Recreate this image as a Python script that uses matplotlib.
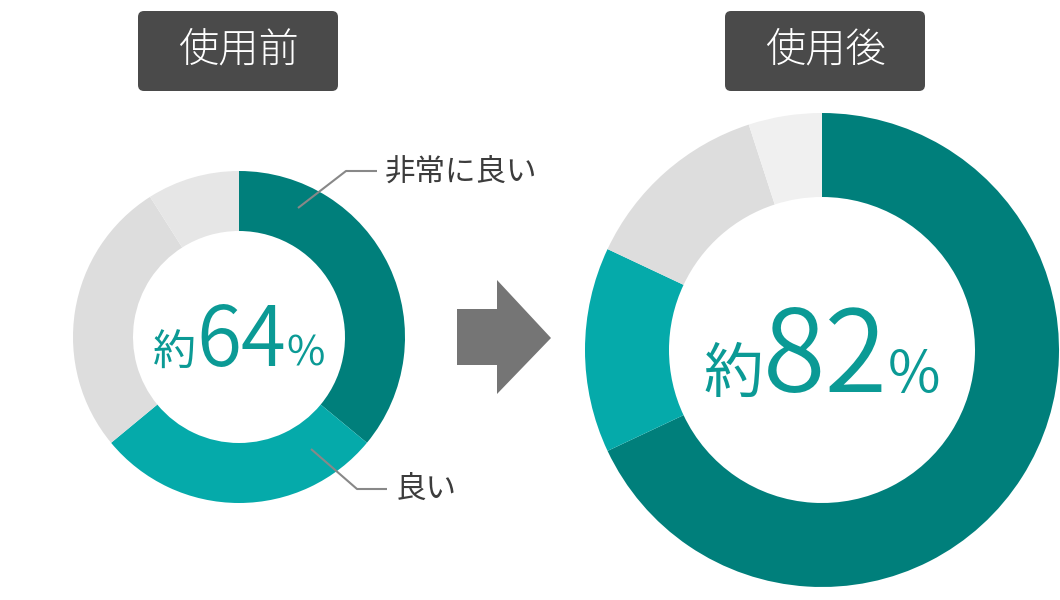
import matplotlib
matplotlib.use("Agg")
import matplotlib.pyplot as plt
from matplotlib.patches import FancyBboxPatch, Polygon

plt.rcParams['font.family'] = ['Noto Sans CJK JP', 'DejaVu Sans']

# data
categories = ['非常に良い', '良い', 'どちらでもない', '悪い']
before_values = [36, 28, 27, 9]
after_values = [68, 14, 13, 5]
titles = ['使用前', '使用後']

teal_dark = '#007F7B'
teal_light = '#05AAAA'
before_colors = [teal_dark, teal_light, '#DDDDDD', '#E6E6E6']
after_colors = [teal_dark, teal_light, '#DDDDDD', '#F0F0F0']
text_teal = '#0B9A95'
box_gray = '#4A4A4A'
label_gray = '#3C3C3C'

W, H = 1060, 600
fig = plt.figure(figsize=(W / 100, H / 100), dpi=100)
ax = fig.add_axes([0, 0, 1, 1])

# donuts (pixel coordinates, y up)
left_c, left_r, left_w = (239, 263), 166, 60
right_c, right_r, right_w = (822, 250), 237, 84

ax.pie(before_values, colors=before_colors, startangle=90, counterclock=False,
       radius=left_r, center=left_c, frame=True,
       wedgeprops=dict(width=left_w, linewidth=0))
ax.pie(after_values, colors=after_colors, startangle=90, counterclock=False,
       radius=right_r, center=right_c, frame=True,
       wedgeprops=dict(width=right_w, linewidth=0))

ax.set_xlim(0, W)
ax.set_ylim(0, H)
ax.set_aspect('equal')
ax.axis('off')

# header boxes
for title, cx in zip(titles, [238, 825]):
    box = FancyBboxPatch((cx - 100, 509), 200, 80,
                         boxstyle='round,pad=0,rounding_size=6',
                         fc=box_gray, ec='none')
    ax.add_patch(box)
    ax.text(cx, 549, title, color='white', fontsize=29, fontweight='light',
            ha='center', va='center')

# arrow
arrow = Polygon([(457, 291), (497, 291), (497, 320), (551, 262),
                 (497, 206), (497, 235), (457, 235)],
                closed=True, fc='#757575', ec='none')
ax.add_patch(arrow)


def center_label(cx, baseline, value, sizes):
    parts = [('約', sizes[0], 'normal'), (str(value), sizes[1], 350),
             ('%', sizes[2], 'normal')]
    texts = [ax.text(0, baseline, s, fontsize=fs, color=text_teal,
                     fontweight=fw, ha='left', va='baseline')
             for s, fs, fw in parts]
    fig.canvas.draw()
    r = fig.canvas.get_renderer()
    widths = [t.get_window_extent(r).width for t in texts]
    x = cx - sum(widths) / 2
    for t, w in zip(texts, widths):
        t.set_x(x)
        x += w


center_label(left_c[0], 234, before_values[0] + before_values[1], (31, 59, 30))
center_label(right_c[0], 208, after_values[0] + after_values[1], (43, 82, 41))

# leader labels for the 使用前 donut
line_kw = dict(color='#888888', lw=1.5, solid_capstyle='butt')
ax.plot([298, 346, 377], [392, 429, 429], **line_kw)
ax.text(385, 428, categories[0], fontsize=22, color=label_gray,
        ha='left', va='center')
ax.plot([311, 357, 387], [151, 111, 111], **line_kw)
ax.text(396, 111, categories[1], fontsize=22, color=label_gray,
        ha='left', va='center')

fig.savefig('out.png', dpi=100)
